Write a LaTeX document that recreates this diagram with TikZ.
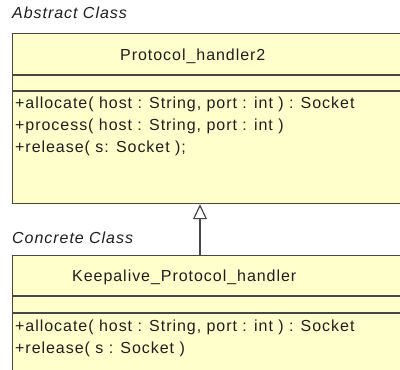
\documentclass[tikz,border=0pt]{standalone}
\usepackage{fontspec}
\setmainfont[LetterSpace=6]{Liberation Sans}
\usetikzlibrary{arrows.meta}
\definecolor{classfill}{RGB}{255,255,204}
\definecolor{classline}{RGB}{70,70,70}
\definecolor{textgray}{RGB}{30,30,30}
\begin{document}
\begin{tikzpicture}[x=1pt,y=-1pt,
  classbox/.style={draw=classline, fill=classfill, line width=1.2pt, inner sep=0pt, anchor=north west},
  sep/.style={draw=classline, line width=1.2pt},
  caption/.style={font=\fontsize{16}{19}\selectfont\itshape, anchor=base west, inner sep=0pt, text=textgray},
  member/.style={font=\fontsize{16}{19}\selectfont, anchor=base west, inner sep=0pt, text=textgray},
  inherit/.style={draw=classline, line width=1.2pt, -{Triangle[fill=white, width=14pt, length=15pt]}}
]
\clip (0,0) rectangle (400,370);
\fill[white] (0,0) rectangle (400,370);

% abstract base class
\node[classbox, minimum width=400pt, minimum height=170pt] (abs) at (12,33) {};
\draw[sep] (12,75) -- ++(400,0);
\draw[sep] (12,91) -- ++(400,0);
\node[caption] (abslbl) at (12,18) {Abstract Class};
\node[member] (absname) at (120,60) {Protocol\_handler2};
\node[member] (absm1) at (15,108) {+allocate( host : String, port : int ) : Socket};
\node[member] (absm2) at (15,130) {+process( host : String, port : int )};
\node[member] (absm3) at (15,152) {+release( s: Socket );};

% concrete subclass
\node[classbox, minimum width=400pt, minimum height=140pt] (conc) at (12,255) {};
\draw[sep] (12,296) -- ++(400,0);
\draw[sep] (12,313) -- ++(400,0);
\node[caption] (conclbl) at (12,243) {Concrete Class};
\node[member] (concname) at (72,281) {Keepalive\_Protocol\_handler};
\node[member] (concm1) at (15,331) {+allocate( host : String, port : int ) : Socket};
\node[member] (concm2) at (15,353) {+release( s : Socket )};

% generalization
\coordinate (ax) at (200,0);
\draw[inherit] (conc.north -| ax) -- (abs.south -| ax);
\end{tikzpicture}
\end{document}
